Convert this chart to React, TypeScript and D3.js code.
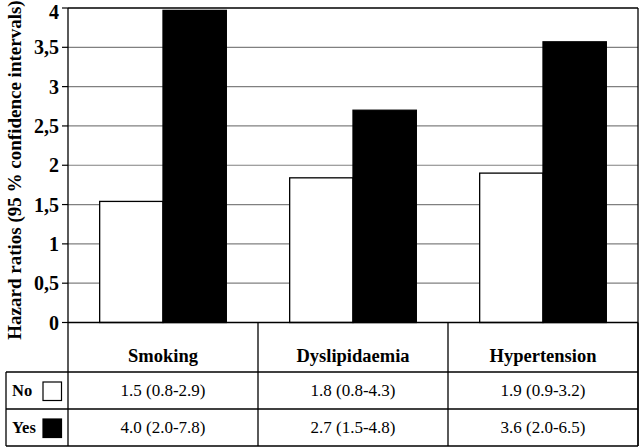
import React from "react";
import * as d3 from "d3";

const categories = ["Smoking", "Dyslipidaemia", "Hypertension"];
const seriesNames = ["No", "Yes"];
const noValues = [1.54, 1.84, 1.9];
const yesValues = [3.97, 2.7, 3.57];
const noLabels = ["1.5 (0.8-2.9)", "1.8 (0.8-4.3)", "1.9 (0.9-3.2)"];
const yesLabels = ["4.0 (2.0-7.8)", "2.7 (1.5-4.8)", "3.6 (2.0-6.5)"];
const yTicks = [0, 0.5, 1, 1.5, 2, 2.5, 3, 3.5, 4];
const yTickLabels = ["0", "0,5", "1", "1,5", "2", "2,5", "3", "3,5", "4"];
const yTitle = "Hazard ratios (95 % confidence intervals)";

const W = 640;
const H = 448;
const left = 68;
const right = 638;
const top = 8;
const zeroY = 322.5;
const headerBottom = 372;
const row1Bottom = 409;
const tableBottom = 446;
const legendLeft = 6;
const serif = "'Liberation Serif', 'Times New Roman', serif";

export default function App() {
  const x0 = d3.scaleBand<string>().domain(categories).range([left, right]).paddingInner(0).paddingOuter(0);
  const x1 = d3.scaleBand<string>().domain(seriesNames).range([0, x0.bandwidth()]).paddingInner(0).paddingOuter(0.5);
  const y = d3.scaleLinear().domain([0, 4]).range([zeroY, top]);
  const values = [noValues, yesValues];
  const fills = ["#ffffff", "#000000"];
  const rowLabels = [noLabels, yesLabels];
  const rowCenters = [(headerBottom + row1Bottom) / 2, (row1Bottom + tableBottom) / 2];

  return (
    <svg width={W} height={H} style={{ position: "absolute", left: 0, top: 0, background: "#fff" }}>
      <rect x={0} y={0} width={W} height={H} fill="#fff" />
      {/* gridlines */}
      {yTicks.filter((t) => t > 0 && t < 4).map((t) => (
        <line key={"g" + t} x1={left} x2={right} y1={y(t)} y2={y(t)} stroke="#808080" strokeWidth={1.2} />
      ))}
      {/* bars */}
      {categories.map((c, ci) =>
        seriesNames.map((s, si) => {
          const v = values[si][ci];
          const bx = (x0(c) as number) + (x1(s) as number);
          return (
            <rect
              key={c + s}
              x={bx}
              y={y(v)}
              width={x1.bandwidth()}
              height={zeroY - y(v)}
              fill={fills[si]}
              stroke="#000"
              strokeWidth={1.3}
            />
          );
        })
      )}
      {/* plot frame */}
      <line x1={left} x2={right} y1={top} y2={top} stroke="#000" strokeWidth={1.3} />
      <line x1={right} x2={right} y1={top} y2={tableBottom} stroke="#000" strokeWidth={1.3} />
      <line x1={left} x2={left} y1={top} y2={tableBottom} stroke="#000" strokeWidth={1.3} />
      <line x1={left} x2={right} y1={zeroY} y2={zeroY} stroke="#000" strokeWidth={1.3} />
      {/* y ticks */}
      {yTicks.map((t, i) => (
        <g key={"t" + t}>
          <line x1={left - 6} x2={left} y1={y(t)} y2={y(t)} stroke="#000" strokeWidth={1.2} />
          <text
            x={59}
            y={Math.max(y(t), 12)}
            textAnchor="end"
            dominantBaseline="central"
            fontFamily={serif}
            fontWeight="bold"
            fontSize={20}
            fill="#000"
          >
            {yTickLabels[i]}
          </text>
        </g>
      ))}
      {/* y title */}
      <text
        transform={`translate(14,${170}) rotate(-90)`}
        textAnchor="middle"
        dominantBaseline="central"
        fontFamily={serif}
        fontWeight="bold"
        fontSize={19}
        fill="#000"
      >
        {yTitle}
      </text>
      {/* table */}
      {categories.map((c) => (
        <line
          key={"v" + c}
          x1={(x0(c) as number) + x0.bandwidth()}
          x2={(x0(c) as number) + x0.bandwidth()}
          y1={zeroY}
          y2={tableBottom}
          stroke="#000"
          strokeWidth={1.3}
        />
      ))}
      <line x1={legendLeft} x2={right} y1={headerBottom} y2={headerBottom} stroke="#000" strokeWidth={1.3} />
      <line x1={legendLeft} x2={right} y1={row1Bottom} y2={row1Bottom} stroke="#000" strokeWidth={1.3} />
      <line x1={legendLeft} x2={right} y1={tableBottom} y2={tableBottom} stroke="#000" strokeWidth={1.3} />
      <line x1={legendLeft} x2={legendLeft} y1={headerBottom} y2={tableBottom} stroke="#000" strokeWidth={1.3} />
      {categories.map((c) => (
        <text
          key={"h" + c}
          x={(x0(c) as number) + x0.bandwidth() / 2}
          y={362}
          textAnchor="middle"
          fontFamily={serif}
          fontWeight="bold"
          fontSize={18.5}
          fill="#000"
        >
          {c}
        </text>
      ))}
      {seriesNames.map((s, si) => (
        <g key={"r" + s}>
          <text
            x={12}
            y={rowCenters[si]}
            dominantBaseline="central"
            fontFamily={serif}
            fontWeight="bold"
            fontSize={16.5}
            fill="#000"
          >
            {s}
          </text>
          <rect
            x={43}
            y={rowCenters[si] - 8.5}
            width={18.5}
            height={18.5}
            fill={fills[si]}
            stroke="#000"
            strokeWidth={1.2}
          />
          {categories.map((c, ci) => (
            <text
              key={"c" + c}
              x={(x0(c) as number) + x0.bandwidth() / 2}
              y={rowCenters[si]}
              textAnchor="middle"
              dominantBaseline="central"
              fontFamily={serif}
              fontSize={17}
              fill="#000"
            >
              {rowLabels[si][ci]}
            </text>
          ))}
        </g>
      ))}
    </svg>
  );
}
